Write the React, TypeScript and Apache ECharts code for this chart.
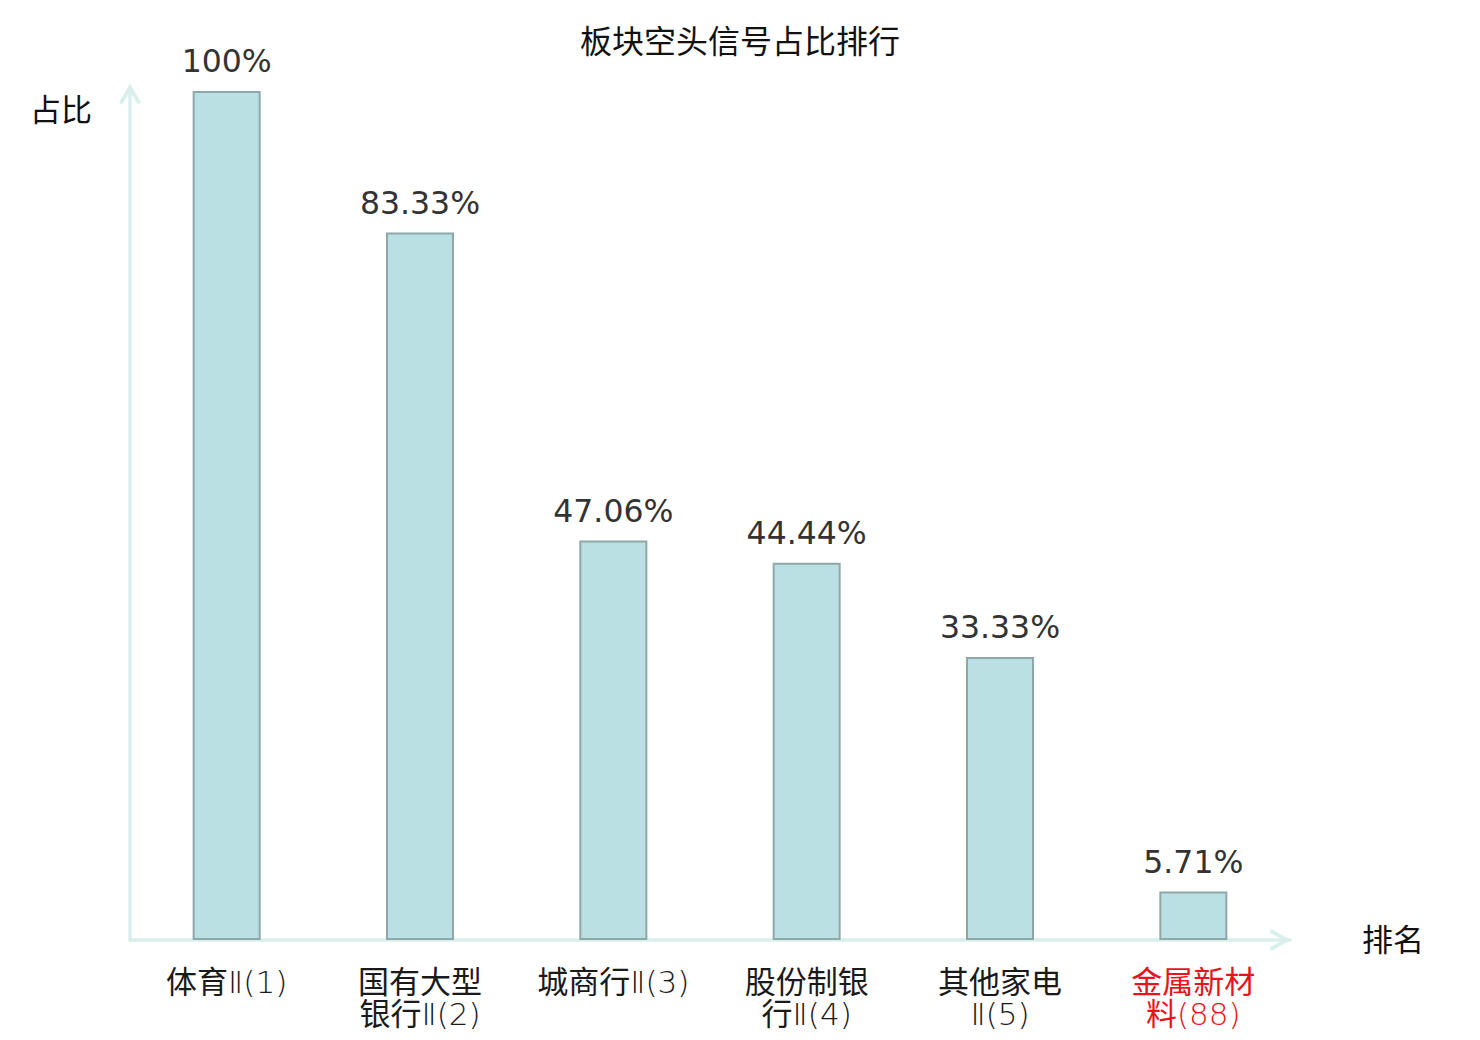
import React, { useEffect, useRef } from "react";
import * as echarts from "echarts";

const titleText = "板块空头信号占比排行";
const categories = ["体育Ⅱ(1)", "国有大型银行Ⅱ(2)", "城商行Ⅱ(3)", "股份制银行Ⅱ(4)", "其他家电Ⅱ(5)", "金属新材料(88)"];
const values = [100, 83.33, 47.06, 44.44, 33.33, 5.71];
const highlightIndex = 5;
const yName = "占比";
const xName = "排名";

const FONT = "'DejaVu Sans', 'Noto Sans CJK SC', sans-serif";
const AXIS_COLOR = "#d9efec";
const DARK = "#1a1a1a";
const RED = "#e8141b";
const ARROW = "path://M10,0 L21,19 L17.6,21 L10,7.5 L2.4,21 L-1,19 Z";

// wrap a label into rich-text runs: CJK in regular weight, Latin in light weight
function richLabel(v: string, idx: number): string {
  const red = idx === highlightIndex;
  const cTag = red ? "cr" : "c";
  const lTag = red ? "lr" : "l";
  const lines = v.length > 7 ? [v.slice(0, 4), v.slice(4)] : [v];
  return lines
    .map((line) => {
      const runs: string[] = [];
      let cur = "";
      let curCjk: boolean | null = null;
      for (const ch of line) {
        const isCjk = /[\u4e00-\u9fff]/.test(ch);
        if (curCjk !== null && isCjk !== curCjk) {
          runs.push(`{${curCjk ? cTag : lTag}|${cur}}`);
          cur = "";
        }
        cur += ch;
        curCjk = isCjk;
      }
      if (cur) runs.push(`{${curCjk ? cTag : lTag}|${cur}}`);
      return runs.join("");
    })
    .join("\n");
}

export default function App() {
  const ref = useRef<HTMLDivElement>(null);
  useEffect(() => {
    document.body.style.margin = "0";
    const chart = echarts.init(ref.current!, null, { renderer: "svg" });
    const base = { fontSize: 31, lineHeight: 32, fontFamily: FONT };
    chart.setOption({
      animation: false,
      backgroundColor: "#ffffff",
      title: {
        text: titleText,
        left: "center",
        top: 26,
        padding: 0,
        textStyle: { fontSize: 32, fontWeight: "normal", color: "#111111", fontFamily: FONT },
      },
      grid: { left: 130, right: 190, top: 91, bottom: 100, containLabel: false },
      xAxis: {
        type: "category",
        data: categories,
        name: xName,
        nameLocation: "end",
        nameGap: 72,
        nameTextStyle: { fontSize: 31, color: "#111111", fontFamily: FONT, verticalAlign: "middle" },
        axisLine: {
          show: true,
          symbol: ["none", ARROW],
          symbolSize: [22, 21],
          symbolOffset: [0, -10],
          lineStyle: { color: AXIS_COLOR, width: 3.5 },
        },
        axisTick: { show: false },
        axisLabel: {
          interval: 0,
          margin: 26,
          fontSize: 31,
          lineHeight: 32,
          fontFamily: FONT,
          color: DARK,
          formatter: (v: string, idx: number) => richLabel(v, idx),
          rich: {
            c: { ...base, fontWeight: "normal", color: DARK },
            l: { ...base, fontWeight: 300, color: DARK },
            cr: { ...base, fontWeight: "normal", color: RED },
            lr: { ...base, fontWeight: 300, color: RED },
          },
        },
      },
      yAxis: {
        type: "value",
        min: 0,
        max: 100,
        name: yName,
        nameLocation: "end",
        nameGap: -19,
        nameTextStyle: {
          fontSize: 31,
          color: "#111111",
          fontFamily: FONT,
          align: "right",
          verticalAlign: "middle",
          padding: [0, 38, 0, 0],
        },
        axisLine: {
          show: true,
          symbol: ["none", ARROW],
          symbolSize: [22, 21],
          symbolOffset: [0, -3],
          lineStyle: { color: AXIS_COLOR, width: 3.5 },
        },
        axisTick: { show: false },
        axisLabel: { show: false },
        splitLine: { show: false },
      },
      series: [
        {
          type: "bar",
          data: values,
          barWidth: 68,
          itemStyle: { color: "#bbe0e3", borderColor: "#8ea8a9", borderWidth: 2 },
          label: {
            show: true,
            position: "top",
            distance: 14,
            fontSize: 31.5,
            color: "#333333",
            fontFamily: FONT,
            formatter: (p: any) => p.value + "%",
          },
        },
      ],
    });
    return () => chart.dispose();
  }, []);
  return <div ref={ref} style={{ width: 1480, height: 1040 }} />;
}
